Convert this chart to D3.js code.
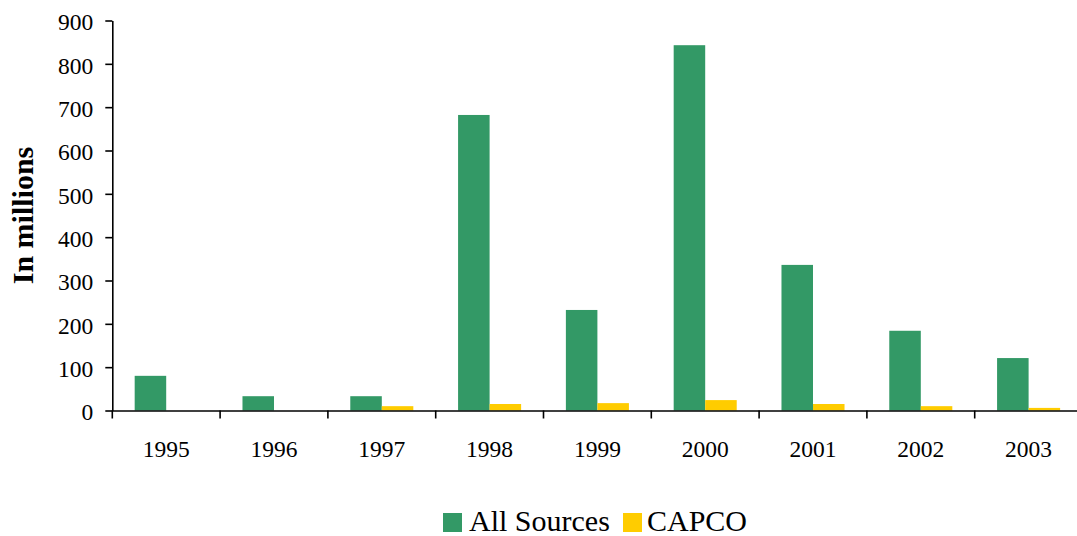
<!DOCTYPE html>
<html>
<head>
<meta charset="utf-8">
<script src="https://cdn.jsdelivr.net/npm/d3@7"></script>
<style>
  html, body { margin: 0; padding: 0; background: #fff; }
  svg { display: block; font-family: "Liberation Serif", "Times New Roman", serif; }
</style>
</head>
<body>
<svg id="chart" width="1077" height="536"></svg>
<script>
const years = ["1995","1996","1997","1998","1999","2000","2001","2002","2003"];
const allSources = [80, 33, 33, 682, 232, 843, 336, 184, 121];
const capco = [0, 0, 10, 15, 17, 24, 15, 10, 6];
const seriesNames = ["All Sources", "CAPCO"];
const seriesColors = ["#339966", "#FFCC00"];
const yTicks = [0, 100, 200, 300, 400, 500, 600, 700, 800, 900];

const svg = d3.select("#chart");
const plotLeft = 112.3, plotRight = 1082.5, plotTop = 20.5, plotBottom = 410.5;

const x0 = d3.scaleBand().domain(years).range([plotLeft, plotRight]).paddingInner(0).paddingOuter(0);
const x1 = d3.scaleBand().domain(seriesNames).range([0, x0.bandwidth()]).paddingInner(0).paddingOuter(0.71);
const y = d3.scaleLinear().domain([0, 900]).range([plotBottom, plotTop]);

const rows = years.map((yr, i) => ({ year: yr, values: [allSources[i], capco[i]] }));

// bars
const g = svg.append("g");
rows.forEach(r => {
  r.values.forEach((v, j) => {
    if (v <= 0) return;
    g.append("rect")
      .attr("x", x0(r.year) + x1(seriesNames[j]))
      .attr("y", y(v))
      .attr("width", x1.bandwidth())
      .attr("height", y(0) - y(v))
      .attr("fill", seriesColors[j]);
  });
});

// y axis
const yAxis = svg.append("g")
  .attr("transform", `translate(${plotLeft},0)`)
  .call(d3.axisLeft(y).tickValues(yTicks).tickSize(7).tickPadding(12).tickSizeOuter(0));
yAxis.select(".domain").attr("stroke", "#000").attr("stroke-width", 1.6);
yAxis.selectAll(".tick line").attr("stroke", "#000").attr("stroke-width", 1.6);
yAxis.selectAll(".tick text").attr("font-size", 23.5).attr("fill", "#000")
  .attr("font-family", "Liberation Serif, serif").attr("dy", "0.4em");

// x axis (labels centred, boundary ticks)
const xAxis = svg.append("g")
  .attr("transform", `translate(0,${plotBottom})`)
  .call(d3.axisBottom(x0).tickSize(0).tickPadding(30).tickSizeOuter(0));
xAxis.select(".domain").attr("stroke", "#000").attr("stroke-width", 1.6);
xAxis.selectAll(".tick text").attr("font-size", 23.5).attr("fill", "#000")
  .attr("font-family", "Liberation Serif, serif");

const boundaries = years.map(yr => x0(yr)).concat([x0(years[years.length - 1]) + x0.bandwidth()]);
svg.append("g").selectAll("line").data(boundaries).join("line")
  .attr("x1", d => d).attr("x2", d => d)
  .attr("y1", plotBottom).attr("y2", plotBottom + 8)
  .attr("stroke", "#000").attr("stroke-width", 1.6);

// y title
svg.append("text")
  .attr("transform", `translate(33,${(plotTop + plotBottom) / 2}) rotate(-90)`)
  .attr("text-anchor", "middle")
  .attr("font-size", 30).attr("font-weight", "bold").attr("fill", "#000")
  .text("In millions");

// legend
const legendItems = [
  { name: seriesNames[0], color: seriesColors[0], sx: 443, tx: 469 },
  { name: seriesNames[1], color: seriesColors[1], sx: 623, tx: 647 }
];
const lg = svg.append("g");
legendItems.forEach(it => {
  lg.append("rect").attr("x", it.sx).attr("y", 513).attr("width", 19).attr("height", 19).attr("fill", it.color);
  lg.append("text").attr("x", it.tx).attr("y", 531).attr("font-size", 30).attr("fill", "#000").text(it.name);
});
</script>
</body>
</html>
